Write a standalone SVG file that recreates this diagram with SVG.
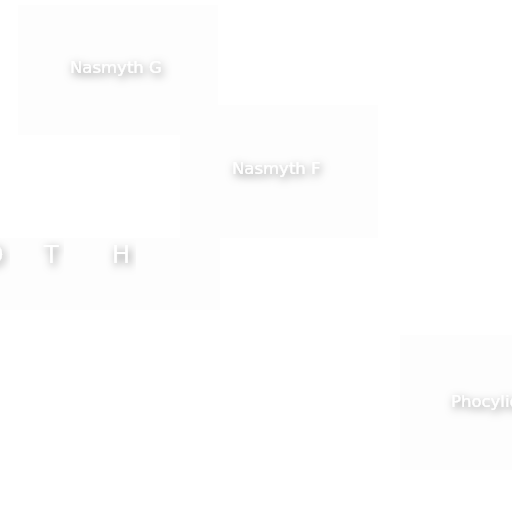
<svg xmlns="http://www.w3.org/2000/svg" width="512" height="512" viewBox="0 0 512 512">
<defs>
<filter id="sh" x="-30%" y="-80%" width="160%" height="260%">
<feDropShadow dx="2" dy="3" stdDeviation="4.5" flood-color="#000" flood-opacity="0.5"/>
</filter>
</defs>
<style>
.tile{fill:#fdfdfd;stroke:none}
.lbl{font-family:"DejaVu Sans",Verdana,sans-serif;fill:#ffffff;filter:url(#sh)}
.s{font-size:16.5px}
.b{font-size:24px}
</style>
<rect width="512" height="512" fill="#ffffff"/>
<g id="tiles">
<rect class="tile" x="18" y="5" width="200" height="130"/>
<rect class="tile" x="180" y="105" width="198" height="133"/>
<rect class="tile" x="0" y="238" width="220" height="72"/>
<rect class="tile" x="400" y="335" width="112" height="135"/>
</g>
<g id="connectors"></g>
<g id="node-nasmyth-g"><text class="lbl s" x="70" y="73">Nasmyth G</text></g>
<g id="node-nasmyth-f"><text class="lbl s" x="232" y="174">Nasmyth F</text></g>
<g id="node-d"><text class="lbl b" x="-15" y="263">D</text></g>
<g id="node-t"><text class="lbl b" x="44" y="263">T</text></g>
<g id="node-h"><text class="lbl b" x="112" y="263">H</text></g>
<g id="node-phocylides"><text class="lbl s" x="451" y="407">Phocylides</text></g>
</svg>
